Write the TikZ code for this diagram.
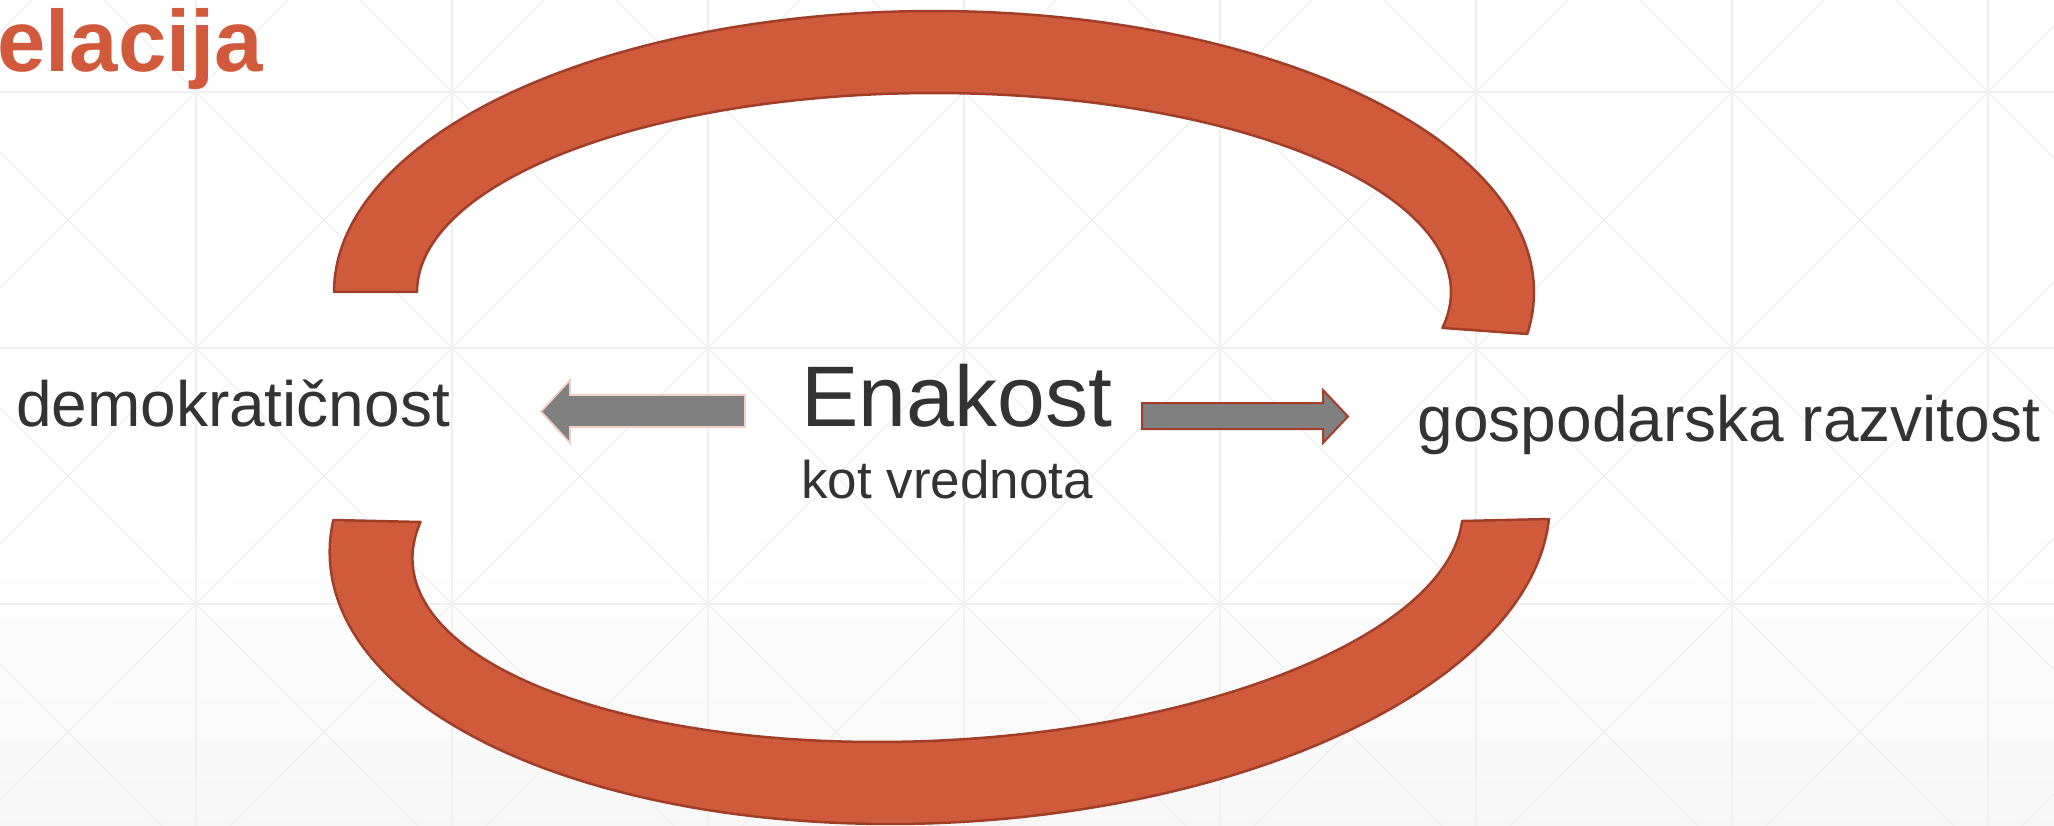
\documentclass[tikz,border=0pt]{standalone}
\usepackage{fontspec}
\setmainfont{Liberation Sans}
\definecolor{bandfill}{RGB}{208,90,60}
\definecolor{banddraw}{RGB}{160,62,40}
\definecolor{txtc}{RGB}{51,51,51}
\definecolor{gridc}{RGB}{240,240,240}
\definecolor{arrfill}{RGB}{128,128,128}
\definecolor{arrpink}{RGB}{240,208,198}
\definecolor{arrred}{RGB}{165,62,40}
\definecolor{titlec}{RGB}{210,90,60}
\begin{document}
\begin{tikzpicture}[x=1pt,y=-1pt,
  band/.style={fill=bandfill, draw=banddraw, line width=2.5pt, line join=round},
  gridline/.style={draw=gridc, line width=1.1pt},
  blockleft/.style={fill=arrfill, draw=arrpink, line width=1.8pt},
  blockright/.style={fill=arrfill, draw=arrred, line width=2pt},
  lbl/.style={text=txtc, inner sep=0pt},
  titletext/.style={text=titlec, inner sep=0pt, font=\fontsize{87}{87}\selectfont\bfseries}]
\useasboundingbox (0,0) rectangle (2054,826);
\fill[white] (0,0) rectangle (2054,826);
\shade[top color=white, bottom color=black!3] (0,520) rectangle (2054,826);
\begin{scope}
  \clip (0,0) rectangle (2054,826);
  \foreach \k in {-1,...,7} \draw[gridline] ({196+256*\k},0) -- ({196+256*\k},826);
  \foreach \yy in {92,348,604} \draw[gridline] (0,\yy) -- (2054,\yy);
  \foreach \k in {-5,...,8} \draw[gridline] ({104+256*\k-100},-100) -- ({104+256*\k+1000},1000);
  \foreach \k in {-1,...,11} \draw[gridline] ({288+256*\k+100},-100) -- ({288+256*\k-1000},1000);
\end{scope}
% upper band
\filldraw[band]
  plot[domain=180:368.6, samples=160] ({934+600*cos(\x)}, {292+281*sin(\x)})
  -- plot[domain=370.4:180, samples=160] ({934+517*cos(\x)}, {292+199*sin(\x)})
  -- cycle;
% lower band
\filldraw[band]
  plot[domain=181.55:-1.74, samples=160] ({939.7+608*cos(\x)-49.7*sin(\x)}, {528+296*sin(\x)})
  -- plot[domain=-3.73:183.45, samples=160] ({937.6+521.7*cos(\x)-60.2*sin(\x)}, {534.5+207.5*sin(\x)})
  -- cycle;
% block arrows
\filldraw[blockleft] (745,395) -- (570,395) -- (570,380) -- (541,411.5) -- (570,443) -- (570,427) -- (745,427) -- cycle;
\filldraw[blockright] (1142,403) -- (1323,403) -- (1323,390) -- (1348,416.5) -- (1323,443) -- (1323,429) -- (1142,429) -- cycle;
% texts
\node[lbl, font=\fontsize{86}{86}\selectfont, anchor=base] (enakost) at (957,426) {Enakost};
\node[lbl, font=\fontsize{53}{53}\selectfont, anchor=base] (kot) at (947,498) {kot vrednota};
\node[lbl, font=\fontsize{64}{64}\selectfont, anchor=base] (demo) at (233,426) {demokratičnost};
\node[lbl, font=\fontsize{64}{64}\selectfont, anchor=base] (gosp) at (1729,441) {gospodarska razvitost};
\node[titletext, anchor=base west] (naslov) at (-3,72) {elacija};
\end{tikzpicture}
\end{document}
